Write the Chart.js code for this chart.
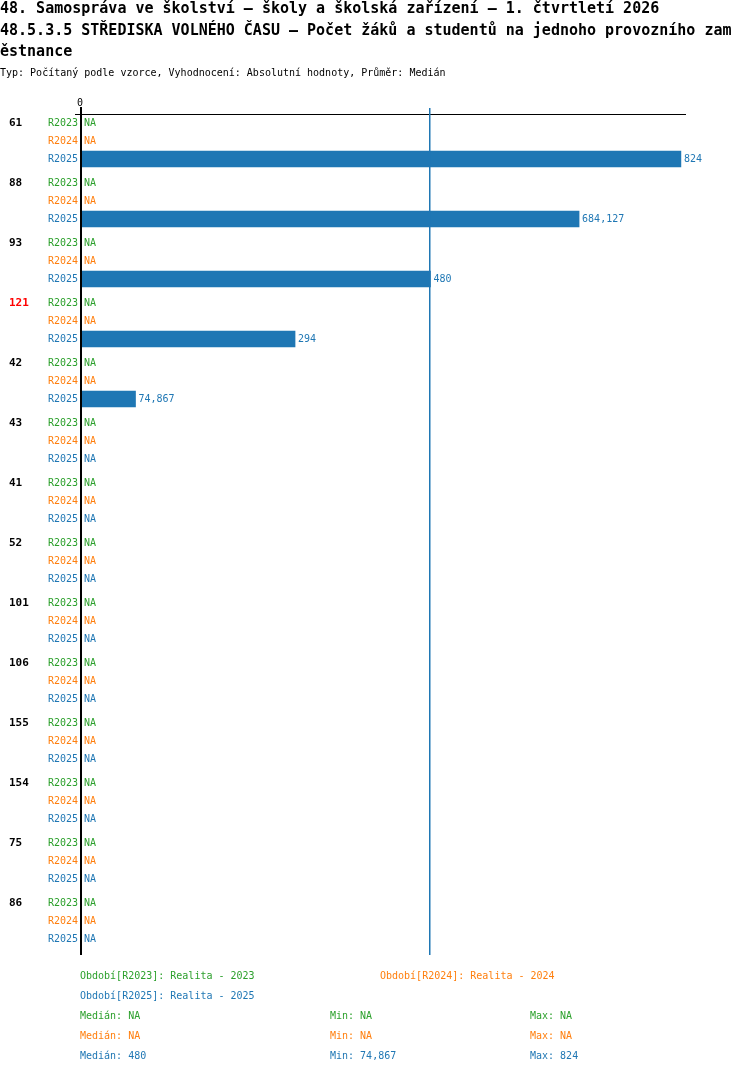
<!DOCTYPE html>
<html>
<head>
<meta charset="utf-8">
<script src="https://cdn.jsdelivr.net/npm/chart.js@4/dist/chart.umd.min.js"></script>
<style>
    body { margin: 0; background: #fff; }
    #page { position: relative; width: 750px; height: 1074px; overflow: hidden; font-family: 'DejaVu Sans Mono', monospace; }
    #chart { position: absolute; left: 0; top: 0; }
    .t { position: absolute; white-space: pre; }
    .title { left: 0; font-size: 15px; font-weight: bold; line-height: 21.5px; color: #000; }
    .small { font-size: 10px; line-height: 20px; }
    .green { color: #2ca02c; }
    .orange { color: #ff7f0e; }
    .blue { color: #1f77b4; }
</style>
</head>
<body>
<div id="page">
    <canvas id="chart" width="750" height="1074"></canvas>
    <div class="t title" style="top:-2px">48. Samospráva ve školství – školy a školská zařízení – 1. čtvrtletí 2026</div>
    <div class="t title" style="top:20px">48.5.3.5 STŘEDISKA VOLNÉHO ČASU – Počet žáků a studentů na jednoho provozního zam</div>
    <div class="t title" style="top:41px">ěstnance</div>
    <div class="t small" style="left:0;top:63px;color:#000">Typ: Počítaný podle vzorce, Vyhodnocení: Absolutní hodnoty, Průměr: Medián</div>

    <div class="t small green" style="left:80px;top:966px">Období[R2023]: Realita - 2023</div>
    <div class="t small orange" style="left:380px;top:966px">Období[R2024]: Realita - 2024</div>
    <div class="t small blue" style="left:80px;top:986px">Období[R2025]: Realita - 2025</div>
    <div id="stats"></div>
</div>
<script>
const groups = ['61', '88', '93', '121', '42', '43', '41', '52', '101', '106', '155', '154', '75', '86'];
const highlightGroup = '121';
const periods = ['R2023', 'R2024', 'R2025'];
const colors = ['#2ca02c', '#ff7f0e', '#1f77b4'];
const r2023 = [null, null, null, null, null, null, null, null, null, null, null, null, null, null];
const r2024 = [null, null, null, null, null, null, null, null, null, null, null, null, null, null];
const r2025 = [824, 684.127, 480, 294, 74.867, null, null, null, null, null, null, null, null, null];
const seriesValues = [r2023, r2024, r2025];
const axisMax = 831;

const fmt = (v) => (v === null ? 'NA' : String(v).replace('.', ','));

// row position in 18px units, groups separated by an extra third of a row
const rowPos = (g, r) => g * (10 / 3) + r;

function summary(values) {
    const vals = values.filter((v) => v !== null).sort((a, b) => a - b);
    if (!vals.length) return { median: null, min: null, max: null };
    const m = Math.floor(vals.length / 2);
    const median = vals.length % 2 ? vals[m] : (vals[m - 1] + vals[m]) / 2;
    return { median, min: vals[0], max: vals[vals.length - 1] };
}
const stats = seriesValues.map(summary);

const statsBox = document.getElementById('stats');
statsBox.innerHTML = stats
    .map((s, i) => {
        const cls = ['green', 'orange', 'blue'][i];
        const top = 1006 + i * 20;
        return `
            <div class="t small ${cls}" style="left:80px;top:${top}px">Medián: ${fmt(s.median)}</div>
            <div class="t small ${cls}" style="left:330px;top:${top}px">Min: ${fmt(s.min)}</div>
            <div class="t small ${cls}" style="left:530px;top:${top}px">Max: ${fmt(s.max)}</div>
        `;
    })
    .join('');

const decorations = {
    id: 'decorations',
    afterDatasetsDraw(chart) {
        const { ctx, chartArea } = chart;
        const xs = chart.scales.x;
        const ys = chart.scales.y;
        const x0 = xs.getPixelForValue(0);
        ctx.save();

        // top axis line
        ctx.fillStyle = '#000';
        ctx.fillRect(75, chartArea.top, chartArea.right - 75, 1);

        // median line of the last period
        const med = stats[2].median;
        if (med !== null) {
            ctx.fillStyle = '#1f77b4';
            ctx.fillRect(Math.round(xs.getPixelForValue(med)) - 1, chartArea.top - 6, 1.5, chartArea.bottom - chartArea.top + 6);
        }

        // zero axis
        ctx.fillStyle = '#000';
        ctx.fillRect(Math.round(x0) - 1, chartArea.top - 7, 2, chartArea.bottom - chartArea.top + 7);
        ctx.font = '10px "DejaVu Sans Mono"';
        ctx.textAlign = 'center';
        ctx.textBaseline = 'middle';
        ctx.fillText('0', x0 - 1, chartArea.top - 11);

        groups.forEach((name, g) => {
            const yg = ys.getPixelForValue(rowPos(g, 0));
            ctx.font = 'bold 11px "DejaVu Sans Mono"';
            ctx.textAlign = 'left';
            ctx.fillStyle = name === highlightGroup ? '#ff0000' : '#000';
            ctx.fillText(name, 9, yg);

            periods.forEach((p, r) => {
                const y = ys.getPixelForValue(rowPos(g, r));
                const v = seriesValues[r][g];
                ctx.font = '10px "DejaVu Sans Mono"';
                ctx.fillStyle = colors[r];
                ctx.textAlign = 'right';
                ctx.fillText(p, x0 - 3, y);
                ctx.textAlign = 'left';
                const tx = v === null ? x0 + 3 : xs.getPixelForValue(v) + 3;
                ctx.fillText(fmt(v), tx, y);
            });
        });
        ctx.restore();
    },
};

new Chart(document.getElementById('chart'), {
    type: 'bar',
    data: {
        datasets: periods.map((p, r) => ({
            label: p,
            data: groups.map((_, g) => ({ x: seriesValues[r][g], y: rowPos(g, r) })),
            backgroundColor: colors[r],
            barThickness: 16,
            grouped: false,
        })),
    },
    options: {
        indexAxis: 'y',
        responsive: false,
        animation: false,
        layout: { padding: { left: 81, right: 64, top: 114, bottom: 119 } },
        scales: {
            x: { type: 'linear', min: 0, max: axisMax, display: false },
            y: { type: 'linear', min: -0.5, max: 46.22, reverse: true, offset: false, display: false },
        },
        plugins: { legend: { display: false }, tooltip: { enabled: false } },
    },
    plugins: [decorations],
});
</script>
</body>
</html>
